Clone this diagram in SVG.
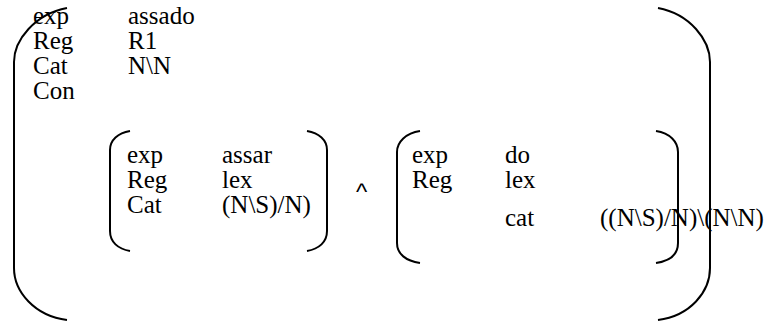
<svg xmlns="http://www.w3.org/2000/svg" width="773" height="322" viewBox="0 0 773 322">
  <style>
    .t { font-family: 'Liberation Serif', 'DejaVu Serif', serif; font-size: 25px; fill: #000; }
    .op { font-family: 'Liberation Sans', 'DejaVu Sans', sans-serif; font-size: 24px; fill: #000; }
    .br { fill: none; stroke: #000; stroke-width: 2; }
  </style>
  <rect width="773" height="322" fill="#fff"/>

  <!-- outer feature structure -->
  <g id="outer">
    <path class="br" d="M67,8 C35,14 14,40 14,62 L14,268 C14,292 35,316 67,320"/>
    <path class="br" d="M658,8 C690,14 710,40 710,62 L710,268 C710,292 690,316 658,320"/>
    <g class="t">
      <text x="33" y="24">exp</text><text x="128" y="24">assado</text>
      <text x="33" y="49">Reg</text><text x="128" y="49">R1</text>
      <text x="33" y="74">Cat</text><text x="128" y="74">N\N</text>
      <text x="33" y="99">Con</text>
    </g>
  </g>

  <!-- first constituent -->
  <g id="assar">
    <path class="br" d="M130,131 C118,133 110,140 110,150 L110,231 C110,242 118,249 130,251"/>
    <path class="br" d="M307,131 C319,133 327,140 327,150 L327,231 C327,242 319,249 307,251"/>
    <g class="t">
      <text x="127" y="163">exp</text><text x="222" y="163">assar</text>
      <text x="127" y="188">Reg</text><text x="222" y="188">lex</text>
      <text x="127" y="213">Cat</text><text x="222" y="213">(N\S)/N)</text>
    </g>
  </g>

  <!-- conjunction sign between the two constituents -->
  <g id="conj">
    <text class="op" x="356" y="200">^</text>
  </g>

  <!-- second constituent -->
  <g id="do">
    <path class="br" d="M420,131 C406,133 397,142 397,152 L397,243 C397,254 406,261 420,263"/>
    <path class="br" d="M656,131 C670,133 678,142 678,152 L678,243 C678,254 670,261 656,263"/>
    <g class="t">
      <text x="412" y="163">exp</text><text x="505" y="163">do</text>
      <text x="412" y="188">Reg</text><text x="505" y="188">lex</text>
      <text x="505" y="226">cat</text><text x="600" y="226">((N\S)/N)\(N\N)</text>
    </g>
  </g>
</svg>
